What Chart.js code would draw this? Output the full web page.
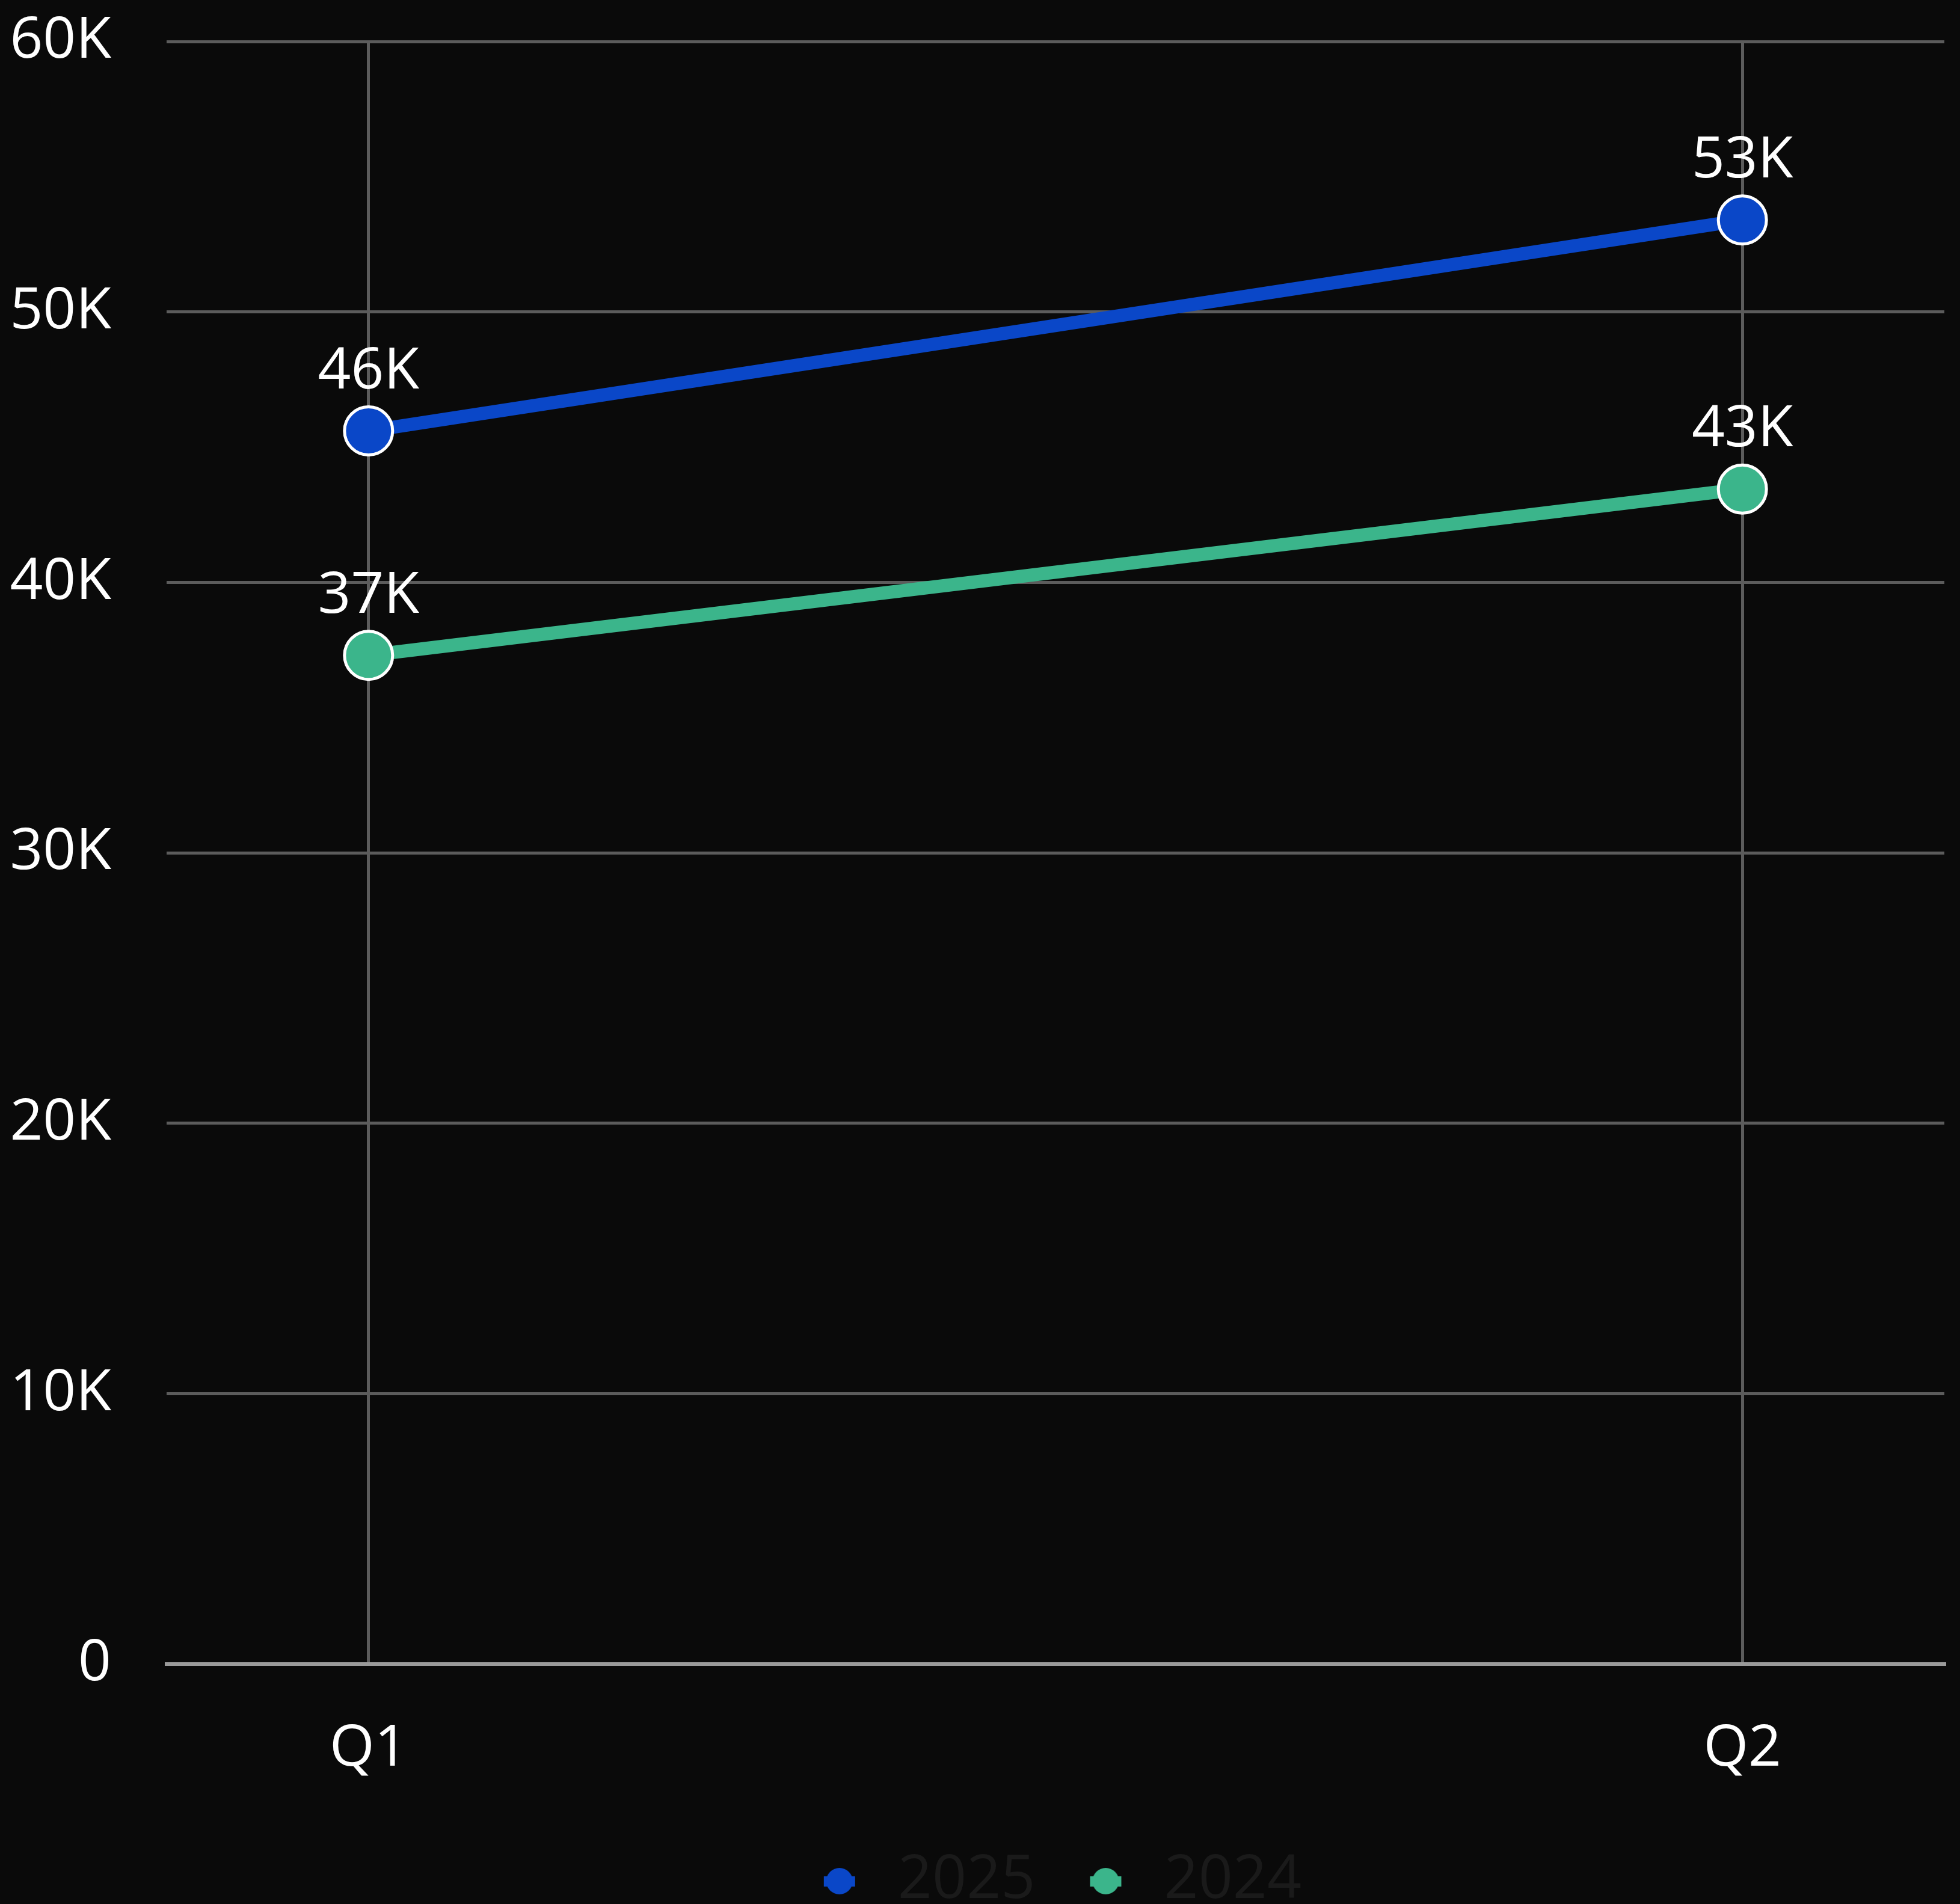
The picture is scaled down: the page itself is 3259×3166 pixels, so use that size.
<!DOCTYPE html>
<html>
<head>
<meta charset="utf-8">
<script src="https://cdn.jsdelivr.net/npm/chart.js@4.4.1/dist/chart.umd.min.js"></script>
<style>
    html, body { margin: 0; padding: 0; background: #0a0a0a; overflow: hidden; }
    #wrap { width: 3259px; height: 3188px; position: relative; }
</style>
</head>
<body>
<div id="wrap"><canvas id="salesChart"></canvas></div>
<script>
// chart data
const categories = ['Q1', 'Q2'];
const seriesNames = ['2025', '2024'];
const values2025 = [45600, 53400];
const values2024 = [37300, 43450];
const yTickValues = [0, 10000, 20000, 30000, 40000, 50000, 60000];

const FONT = "'Open Sans', 'Liberation Sans', sans-serif";
const BLUE = '#0a47c8';
const GREEN = '#3bb58b';

// "K" formatter used by the axis and the point labels
function formatK(v) {
    return v === 0 ? '0' : Math.round(v / 1000) + 'K';
}

function toPoints(values) {
    return values.map((v, i) => ({ x: i, y: v }));
}

// legend icon: short thick line with a dot on it
function legendIcon(color) {
    const c = document.createElement('canvas');
    c.width = 56;
    c.height = 48;
    const g = c.getContext('2d');
    g.fillStyle = color;
    g.fillRect(2, 16, 52, 17);
    g.beginPath();
    g.arc(28, 24, 22, 0, Math.PI * 2);
    g.fill();
    return c;
}

// draws the value above every point
const pointLabels = {
    id: 'pointLabels',
    afterDatasetsDraw(chart) {
        const ctx = chart.ctx;
        ctx.save();
        ctx.font = '96px ' + FONT;
        ctx.fillStyle = '#ffffff';
        ctx.textAlign = 'center';
        ctx.textBaseline = 'alphabetic';
        chart.data.datasets.forEach((ds, di) => {
            const meta = chart.getDatasetMeta(di);
            meta.data.forEach((pt, i) => {
                ctx.fillText(formatK(ds.data[i].y), pt.x, pt.y - 71);
            });
        });
        ctx.restore();
    }
};

// legend sits a little right of centre in the original
const legendShift = {
    id: 'legendShift',
    afterLayout(chart) {
        chart.legend.left += 140;
        chart.legend.right += 140;
    }
};

function noEdgePadding(scale) {
    scale.paddingTop = 0;
    scale.paddingBottom = 0;
    scale.paddingLeft = 0;
    scale.paddingRight = 0;
}

const ctx = document.getElementById('salesChart').getContext('2d');

new Chart(ctx, {
    type: 'line',
    data: {
        datasets: [{
            label: seriesNames[0],
            data: toPoints(values2025),
            borderColor: BLUE,
            backgroundColor: BLUE,
            borderWidth: 22,
            pointRadius: 40,
            pointHoverRadius: 40,
            pointBorderColor: '#ffffff',
            pointBorderWidth: 5,
            pointBackgroundColor: BLUE
        }, {
            label: seriesNames[1],
            data: toPoints(values2024),
            borderColor: GREEN,
            backgroundColor: GREEN,
            borderWidth: 22,
            pointRadius: 40,
            pointHoverRadius: 40,
            pointBorderColor: '#ffffff',
            pointBorderWidth: 5,
            pointBackgroundColor: GREEN
        }]
    },
    options: {
        responsive: true,
        maintainAspectRatio: false,
        animation: false,
        layout: {
            autoPadding: false,
            padding: { top: 69, right: 26, left: 0, bottom: 0 }
        },
        scales: {
            x: {
                type: 'linear',
                min: -0.147,
                max: 1.147,
                afterBuildTicks: scale => {
                    scale.ticks = categories.map((c, i) => ({ value: i }));
                },
                afterFit: scale => {
                    scale.height = 241;
                    noEdgePadding(scale);
                },
                grid: {
                    color: '#5c5c5c',
                    lineWidth: 5,
                    drawTicks: false
                },
                border: { display: true, color: '#9a9a9a', width: 6 },
                ticks: {
                    color: '#ffffff',
                    font: { family: FONT, size: 96 },
                    padding: 84,
                    autoSkip: false,
                    maxRotation: 0,
                    callback: value => categories[value]
                }
            },
            y: {
                min: 0,
                max: 60000,
                afterBuildTicks: scale => {
                    scale.ticks = yTickValues.map(v => ({ value: v }));
                },
                afterFit: scale => {
                    scale.width = 277;
                    noEdgePadding(scale);
                },
                grid: {
                    color: '#5c5c5c',
                    lineWidth: 5,
                    drawTicks: false
                },
                border: { display: false },
                ticks: {
                    color: '#ffffff',
                    font: { family: FONT, size: 96 },
                    padding: 92,
                    callback: value => formatK(value)
                }
            }
        },
        plugins: {
            tooltip: { enabled: false },
            legend: {
                position: 'bottom',
                labels: {
                    usePointStyle: true,
                    pointStyleWidth: 94,
                    padding: 70,
                    color: '#1a1a1a',
                    font: { family: FONT, size: 100 },
                    generateLabels: chart => {
                        const items = Chart.defaults.plugins.legend.labels.generateLabels(chart);
                        items.forEach((item, i) => {
                            item.pointStyle = legendIcon(i === 0 ? BLUE : GREEN);
                        });
                        return items;
                    }
                }
            }
        }
    },
    plugins: [pointLabels, legendShift]
});
</script>
</body>
</html>
